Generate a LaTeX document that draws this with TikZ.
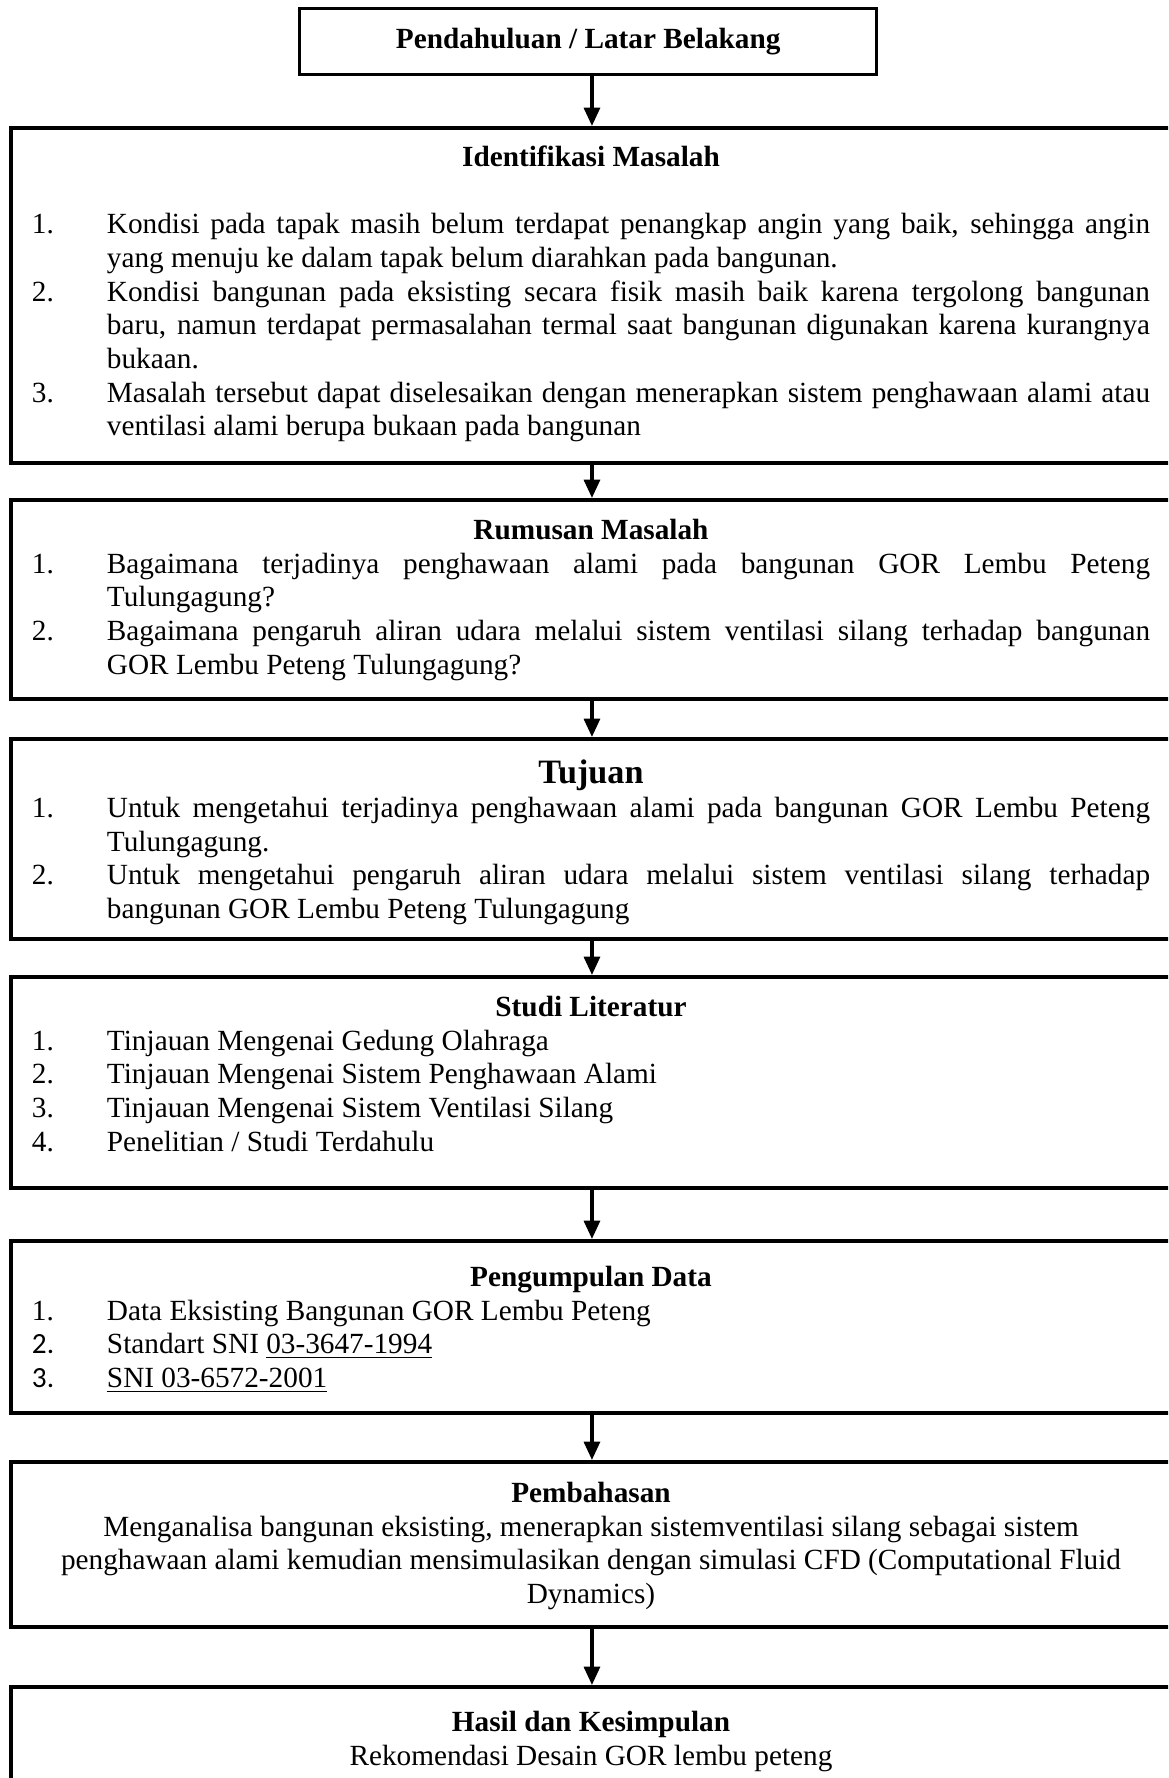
\documentclass[tikz,border=0pt]{standalone}
\usepackage{fontspec}
\setmainfont{Liberation Serif}
\newfontfamily\calibri{Carlito}
\usetikzlibrary{arrows.meta}

\setlength\parindent{0pt}
\hyphenpenalty=10000
\exhyphenpenalty=10000
\tolerance=9999
\emergencystretch=2em

% numbered line with hanging indent
\newcommand\itm[2]{\par\noindent\hangindent=30.75pt\hangafter=1\makebox[30.75pt][l]{#1}#2\par}
\newcommand\judul[1]{{\centering\bfseries\strut #1\par}}

\tikzset{
  stagebox/.style 2 args={draw, line width=1.6pt, anchor=north west, inner sep=0pt,
    minimum width=#1*0.41pt, minimum height=#2*0.41pt},
  boxtext/.style={anchor=north, inner sep=0pt, text width=458.4pt, align=justify,
    font=\fontsize{12}{13.8}\selectfont},
  flow/.style={line width=1.4pt, -{Triangle[width=6.5pt,length=7.5pt]}}
}

\begin{document}
\begin{tikzpicture}[x=0.41pt,y=-0.41pt]
  \clip (0,0) rectangle (1168,1778);

  % kotak
  \node[stagebox={577}{66}, line width=1.4pt, font=\fontsize{12}{13.8}\selectfont\bfseries] (latar) at (298,7) {Pendahuluan / Latar Belakang};
  \node[stagebox={1162}{335}] (identifikasi) at (9,126) {};
  \node[stagebox={1162}{199}] (rumusan) at (9,498) {};
  \node[stagebox={1162}{200}] (tujuan) at (9,737) {};
  \node[stagebox={1162}{211}] (studi) at (9,975) {};
  \node[stagebox={1162}{172}] (data) at (9,1239) {};
  \node[stagebox={1162}{165}] (bahas) at (9,1460) {};
  \node[stagebox={1162}{140}] (hasil) at (9,1685) {};

  % isi
  \node[boxtext] (identifikasi-t) at (591,142.4) {%
    \judul{Identifikasi Masalah}
    \vspace{13.8pt}
    \itm{1.}{Kondisi pada tapak masih belum terdapat penangkap angin yang baik, sehingga angin\linebreak yang menuju ke dalam tapak belum diarahkan pada bangunan.}
    \itm{2.}{Kondisi bangunan pada eksisting secara fisik masih baik karena tergolong bangunan\linebreak baru, namun terdapat permasalahan termal saat bangunan digunakan karena kurangnya\linebreak bukaan.}
    \itm{3.}{Masalah tersebut dapat diselesaikan dengan menerapkan sistem penghawaan alami atau\linebreak ventilasi alami berupa bukaan pada bangunan}};

  \node[boxtext] (rumusan-t) at (591,515.4) {%
    \judul{Rumusan Masalah}
    \itm{1.}{Bagaimana terjadinya penghawaan alami pada bangunan GOR Lembu Peteng\linebreak Tulungagung?}
    \itm{2.}{Bagaimana pengaruh aliran udara melalui sistem ventilasi silang terhadap bangunan\linebreak GOR Lembu Peteng Tulungagung?}};

  \node[boxtext] (tujuan-t) at (591,759.7) {%
    {\centering\fontsize{14}{13.8}\selectfont\bfseries\strut Tujuan\par}
    \itm{1.}{Untuk mengetahui terjadinya penghawaan alami pada bangunan GOR Lembu Peteng\linebreak Tulungagung.}
    \itm{2.}{Untuk mengetahui pengaruh aliran udara melalui sistem ventilasi silang terhadap\linebreak bangunan GOR Lembu Peteng Tulungagung}};

  \node[boxtext] (studi-t) at (591,992.4) {%
    \judul{Studi Literatur}
    \itm{1.}{Tinjauan Mengenai Gedung Olahraga}
    \itm{2.}{Tinjauan Mengenai Sistem Penghawaan Alami}
    \itm{3.}{Tinjauan Mengenai Sistem Ventilasi Silang}
    \itm{4.}{Penelitian / Studi Terdahulu}};

  \node[boxtext] (data-t) at (591,1262.4) {%
    \judul{Pengumpulan Data}
    \itm{1.}{Data Eksisting Bangunan GOR Lembu Peteng}
    \itm{\calibri 2.}{Standart SNI \underline{03-3647-1994}}
    \itm{\calibri 3.}{\underline{SNI 03-6572-2001}}};

  \node[boxtext] (bahas-t) at (591,1478.4) {%
    \judul{Pembahasan}
    {\centering Menganalisa bangunan eksisting, menerapkan sistemventilasi silang sebagai sistem\\
    penghawaan alami kemudian mensimulasikan dengan simulasi CFD (Computational Fluid\\
    Dynamics)\par}};

  \node[boxtext] (hasil-t) at (591,1707.4) {%
    \judul{Hasil dan Kesimpulan}
    {\centering Rekomendasi Desain GOR lembu peteng\par}};

  % panah
  \draw[flow] (latar.south -| identifikasi.north) -- (identifikasi.north);
  \draw[flow] (identifikasi.south) -- (rumusan.north);
  \draw[flow] (rumusan.south) -- (tujuan.north);
  \draw[flow] (tujuan.south) -- (studi.north);
  \draw[flow] (studi.south) -- (data.north);
  \draw[flow] (data.south) -- (bahas.north);
  \draw[flow] (bahas.south) -- (hasil.north);

\end{tikzpicture}
\end{document}
